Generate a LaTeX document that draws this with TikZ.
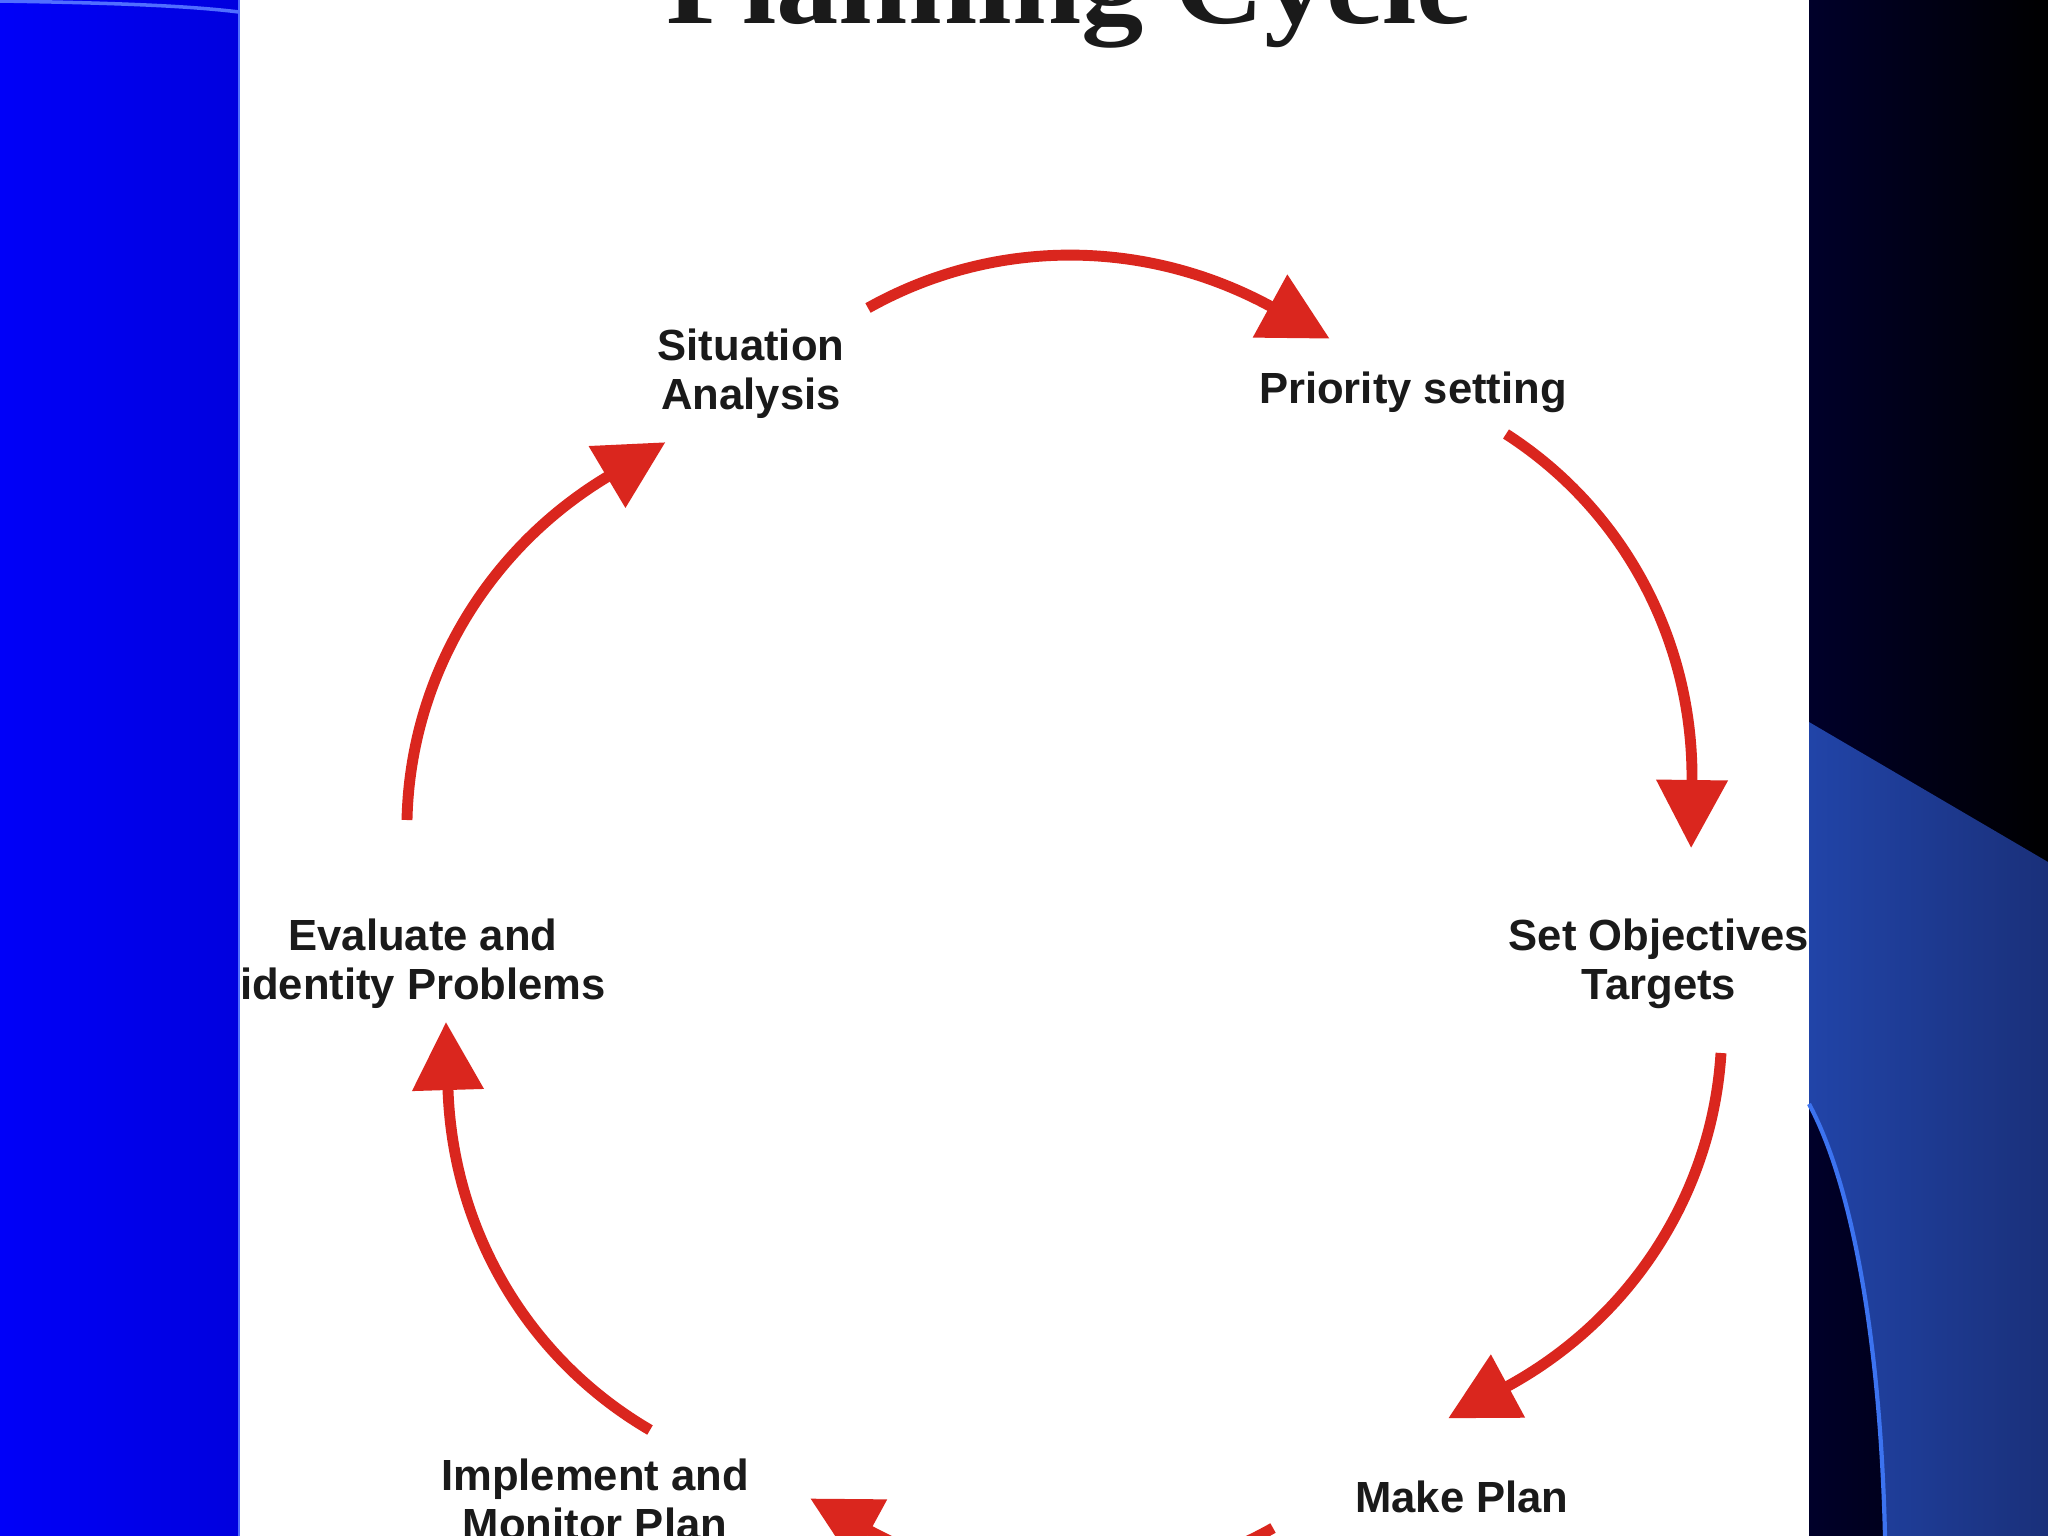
\documentclass[tikz,border=0pt]{standalone}
\usepackage{fontspec}
\setmainfont{Liberation Sans}
\newfontfamily\titlefont{Liberation Serif}
\usepackage{graphicx}
\usepackage{tikz}
\usetikzlibrary{arrows.meta}
\usepackage{xcolor}
\definecolor{cycred}{RGB}{218,38,30}
\definecolor{inkblack}{RGB}{26,26,26}
\definecolor{slideblue}{RGB}{0,0,248}
\definecolor{slideblueb}{RGB}{0,0,222}
\definecolor{edgeblue}{RGB}{80,110,255}
\definecolor{nightblue}{RGB}{0,0,42}
\definecolor{wingblue}{RGB}{33,68,168}
\definecolor{wingblueb}{RGB}{26,48,122}
\definecolor{wingedge}{RGB}{60,115,240}

\begin{document}
\begin{tikzpicture}[x=0.01cm, y=0.01cm,
    lbl/.style={align=center, text=inkblack, inner sep=0pt,
        font=\bfseries\fontsize{12.4}{13.9}\selectfont},
    ttl/.style={anchor=base, text=inkblack, inner sep=0pt,
        font=\titlefont\bfseries\fontsize{31.9}{36}\selectfont},
    arr/.style={-{Triangle[length=6.8mm, width=6.9mm]}, line width=3.1pt,
        cycred, shorten >=-6.8mm}
]
    \useasboundingbox (0,0) rectangle (2048,-1536);
    \fill[white] (239,0) rectangle (1809,-1536);

    \node[ttl] (title) at (1069,-23) {\scalebox{1.11}[1]{Planning Cycle}};

    \node[lbl] (sit) at (751,-374) {Situation\\Analysis};
    \node[lbl] (pri) at (1413,-392) {Priority setting};
    \node[lbl] (obj) at (1659,-964) {Set Objectives\\Targets};
    \node[lbl] (plan) at (1462,-1497) {Make Plan};
    \node[lbl] (impl) at (595,-1499) {Implement and\\Monitor Plan};
    \node[lbl] (eval) at (423,-964) {Evaluate and\\identity Problems};

    \coordinate (s1) at (868,-308);  \coordinate (b1) at (1270,-306);
    \coordinate (s2) at (1506,-434); \coordinate (b2) at (1692,-780);
    \coordinate (s3) at (1721,-1053); \coordinate (b3) at (1508,-1386);
    \coordinate (s4) at (1273,-1528); \coordinate (b4) at (870,-1531);
    \coordinate (s5) at (650,-1430); \coordinate (b5) at (448,-1090);
    \coordinate (s6) at (407,-820);  \coordinate (b6) at (607,-477);

    \draw[arr] (s1) to[bend left=29, looseness=0.91] (b1);
    \draw[arr] (s2) to[bend left=29, looseness=0.91] (b2);
    \draw[arr] (s3) to[bend left=29, looseness=0.91] (b3);
    \draw[arr] (s4) to[bend left=29, looseness=0.91] (b4);
    \draw[arr] (s5) to[bend left=29, looseness=0.91] (b5);
    \draw[arr] (s6) to[bend left=29, looseness=0.91] (b6);

    \shade[left color=slideblue, right color=slideblueb] (0,0) rectangle (239,-1536);
    \draw[edgeblue, line width=0.6pt] (239,0) -- (239,-1536);
    \draw[edgeblue, line width=1pt] (0,-1) .. controls (120,-3) and (190,-6) .. (239,-12);

    \shade[left color=nightblue, right color=black] (1809,0) rectangle (2048,-1536);
    \shade[left color=wingblue, right color=wingblueb] (1809,-722) -- (2048,-862)
        -- (2048,-1536) -- (1885,-1536) .. controls (1880,-1330) and (1850,-1180) .. (1809,-1104) -- cycle;
    \draw[wingedge, line width=1.2pt] (1809,-1104) .. controls (1850,-1180) and (1880,-1330) .. (1885,-1536);
\end{tikzpicture}
\end{document}
